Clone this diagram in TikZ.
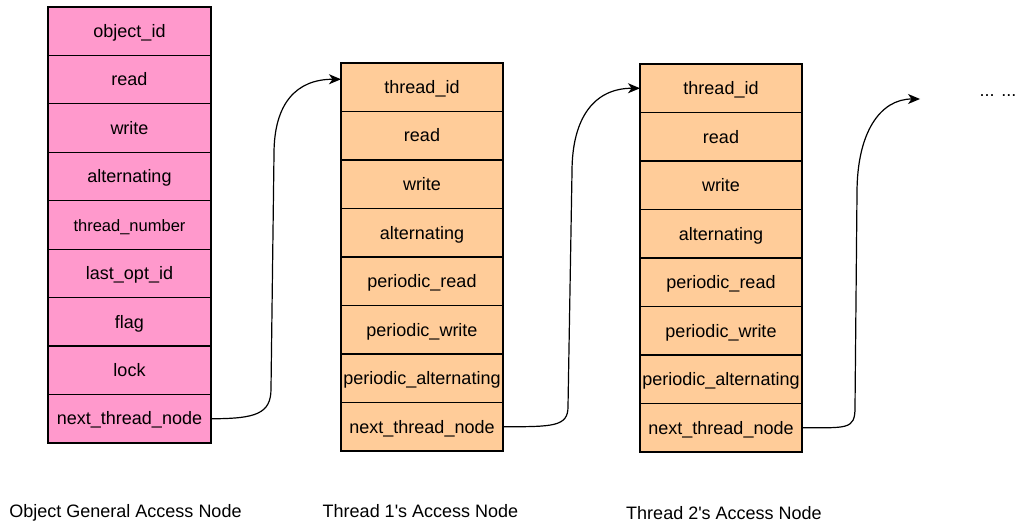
\documentclass[tikz,border=0pt]{standalone}
\usepackage{fontspec}
\setmainfont{Liberation Sans}
\usetikzlibrary{arrows.meta}
\definecolor{objpink}{HTML}{FF99CC}
\definecolor{throrange}{HTML}{FFCC99}
\tikzset{
  cell/.style={draw, line width=1.2pt, inner sep=0pt, outer sep=0pt, minimum width=162pt, minimum height=48.5pt},
  objcell/.style={cell, fill=objpink, minimum width=163pt, minimum height=48.44pt},
  thrcell/.style={cell, fill=throrange},
  link/.style={line width=1.2pt, -{Stealth[length=12pt,width=10pt,inset=3.5pt]}}
}
\begin{document}
\begin{tikzpicture}[x=1pt, y=-1pt, font=\fontsize{18}{22}\selectfont, text height=13pt, text depth=0.5pt]
            \useasboundingbox (0,0) rectangle (1022,524);
            % object general access node
            \foreach \txt [count=\i] in {object\_id, read, write, alternating, {\fontsize{16.5}{20}\selectfont thread\_number}, last\_opt\_id, flag, lock, next\_thread\_node}
                \node [objcell] (obj\i) at (129.5,{7+(\i-0.5)*48.44}) {\txt};
            % thread access nodes
            \foreach \txt [count=\i] in {thread\_id, read, write, alternating, periodic\_read, periodic\_write, periodic\_alternating, next\_thread\_node}
                \node [thrcell] (thrA\i) at (422,{63+(\i-0.5)*48.5}) {\txt};
            \foreach \txt [count=\i] in {thread\_id, read, write, alternating, periodic\_read, periodic\_write, periodic\_alternating, next\_thread\_node}
                \node [thrcell] (thrB\i) at (721,{64+(\i-0.5)*48.5}) {\txt};
            \coordinate (next) at (920,99);
            \node (more) at (998,90) {... ...};
            \draw [link] (obj9.east) .. controls +(45,0) and +(0,25) .. ++(60,-30) -- ++(3,-235)
                .. controls +(0,-50) and +(-45,0) .. ([yshift=8pt]thrA1.west);
            \draw [link] (thrA8.east) .. controls +(50,0) and +(0,20) .. ++(65,-20) -- ++(4,-235)
                .. controls +(0,-55) and +(-45,0) .. (thrB1.west);
            \draw [link] (thrB8.east) .. controls +(45,0) and +(0,22) .. ++(53,-20) -- ++(2,-215)
                .. controls +(0,-60) and +(-40,0) .. (next);
            % captions
            \node (objcap) at (125.5,511) {Object General Access Node};
            \node (thrAcap) at (420.5,511) {Thread 1\textquotesingle s Access Node};
            \node (thrBcap) at (724,513) {Thread 2\textquotesingle s Access Node};
        \end{tikzpicture}
\end{document}
